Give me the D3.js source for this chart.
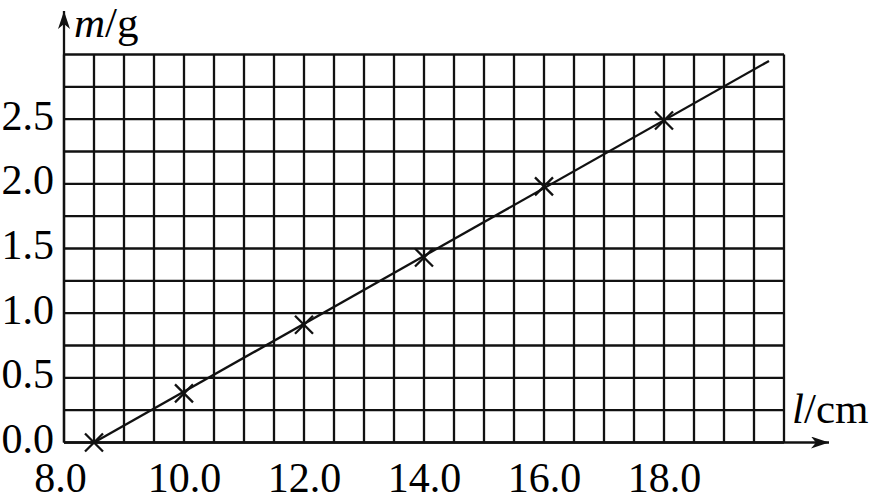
<!DOCTYPE html>
<html>
<head>
<meta charset="utf-8">
<script src="https://cdn.jsdelivr.net/npm/d3@7"></script>
<style>
  html, body { margin: 0; padding: 0; background: #fff; }
  svg { display: block; }
  text { font-family: "Liberation Serif", "Times New Roman", serif; fill: #000; }
</style>
</head>
<body>
<svg id="chart" width="873" height="501"></svg>
<script>
// ---- data ----
const lengths = [8.5, 10.0, 12.0, 14.0, 16.0, 18.0];     // l / cm
const masses  = [0.0, 0.38, 0.91, 1.43, 1.98, 2.49];     // m / g
const fitLine = [[8.5, 0.0], [19.75, 2.95]];            // fitted straight line endpoints (l, m)
const xTicks = [8, 10, 12, 14, 16, 18];
const xTickLabels = ["8.0", "10.0", "12.0", "14.0", "16.0", "18.0"];
const yTicks = [0, 0.5, 1.0, 1.5, 2.0, 2.5];
const yTickLabels = ["0.0", "0.5", "1.0", "1.5", "2.0", "2.5"];
const xGridStep = 0.5, yGridStep = 0.25;
const xDomain = [8, 20], yDomain = [0, 3];

// ---- layout ----
const svg = d3.select("#chart");
const x = d3.scaleLinear().domain(xDomain).range([64, 784]);
const y = d3.scaleLinear().domain(yDomain).range([442.5, 54.5]);
const ink = "#111";

// grid
const xGrid = d3.range(xDomain[0], xDomain[1] + 1e-9, xGridStep);
const yGrid = d3.range(yDomain[0], yDomain[1] + 1e-9, yGridStep);
const grid = svg.append("g").attr("stroke", ink).attr("stroke-width", 2.3);
grid.selectAll("line.v").data(xGrid).join("line").attr("class", "v")
  .attr("x1", d => x(d)).attr("x2", d => x(d))
  .attr("y1", y(yDomain[0])).attr("y2", y(yDomain[1]));
grid.selectAll("line.h").data(yGrid).join("line").attr("class", "h")
  .attr("y1", d => y(d)).attr("y2", d => y(d))
  .attr("x1", x(xDomain[0])).attr("x2", x(xDomain[1]));

// axes with arrows
const defs = svg.append("defs");
defs.append("marker").attr("id", "arrow")
  .attr("viewBox", "0 0 18 12").attr("refX", 18).attr("refY", 6)
  .attr("markerWidth", 18).attr("markerHeight", 12)
  .attr("markerUnits", "userSpaceOnUse").attr("orient", "auto")
  .append("path").attr("d", "M0,0 L18,6 L0,12 L5,6 Z").attr("fill", ink);

svg.append("line")
  .attr("x1", x(xDomain[0])).attr("x2", 829)
  .attr("y1", y(0)).attr("y2", y(0))
  .attr("stroke", ink).attr("stroke-width", 2.3).attr("marker-end", "url(#arrow)");
svg.append("line")
  .attr("x1", x(xDomain[0])).attr("x2", x(xDomain[0]))
  .attr("y1", y(0)).attr("y2", 11)
  .attr("stroke", ink).attr("stroke-width", 2.3).attr("marker-end", "url(#arrow)");

// tick labels via d3 axes
const xAxis = d3.axisBottom(x).tickValues(xTicks).tickSize(0).tickPadding(0)
  .tickFormat((d, i) => xTickLabels[i]);
const gx = svg.append("g").attr("transform", `translate(0, ${y(0)})`).call(xAxis);
gx.select(".domain").remove();
gx.selectAll("text").attr("font-size", 42).attr("font-family", "Liberation Serif")
  .attr("fill", ink).attr("dy", null).attr("y", 49)
  .attr("dx", (d, i) => i === 0 ? -4 : 0);

const yAxis = d3.axisLeft(y).tickValues(yTicks).tickSize(0).tickPadding(0)
  .tickFormat((d, i) => yTickLabels[i]);
const gy = svg.append("g").attr("transform", `translate(${x(xDomain[0])}, 0)`).call(yAxis);
gy.select(".domain").remove();
gy.selectAll("text").attr("font-size", 42).attr("font-family", "Liberation Serif")
  .attr("fill", ink).attr("x", -10).attr("dy", null).attr("y", 10);

// axis titles
const yTitle = svg.append("text").attr("x", 74).attr("y", 37).attr("font-size", 43);
yTitle.append("tspan").attr("font-style", "italic").text("m");
yTitle.append("tspan").text("/g");
const xTitle = svg.append("text").attr("x", 792).attr("y", 423).attr("font-size", 43);
xTitle.append("tspan").attr("font-style", "italic").text("l");
xTitle.append("tspan").text("/cm");

// fitted line
svg.append("line")
  .attr("x1", x(fitLine[0][0])).attr("y1", y(fitLine[0][1]))
  .attr("x2", x(fitLine[1][0])).attr("y2", y(fitLine[1][1]))
  .attr("stroke", ink).attr("stroke-width", 2.3);

// data markers (×)
const pts = lengths.map((l, i) => ({ l, m: masses[i] }));
const s = 9;
const mk = svg.append("g").attr("stroke", ink).attr("stroke-width", 2.3);
mk.selectAll("path").data(pts).join("path")
  .attr("d", d => {
    const cx = x(d.l), cy = y(d.m);
    return `M${cx - s},${cy - s}L${cx + s},${cy + s}M${cx - s},${cy + s}L${cx + s},${cy - s}`;
  });
</script>
</body>
</html>
